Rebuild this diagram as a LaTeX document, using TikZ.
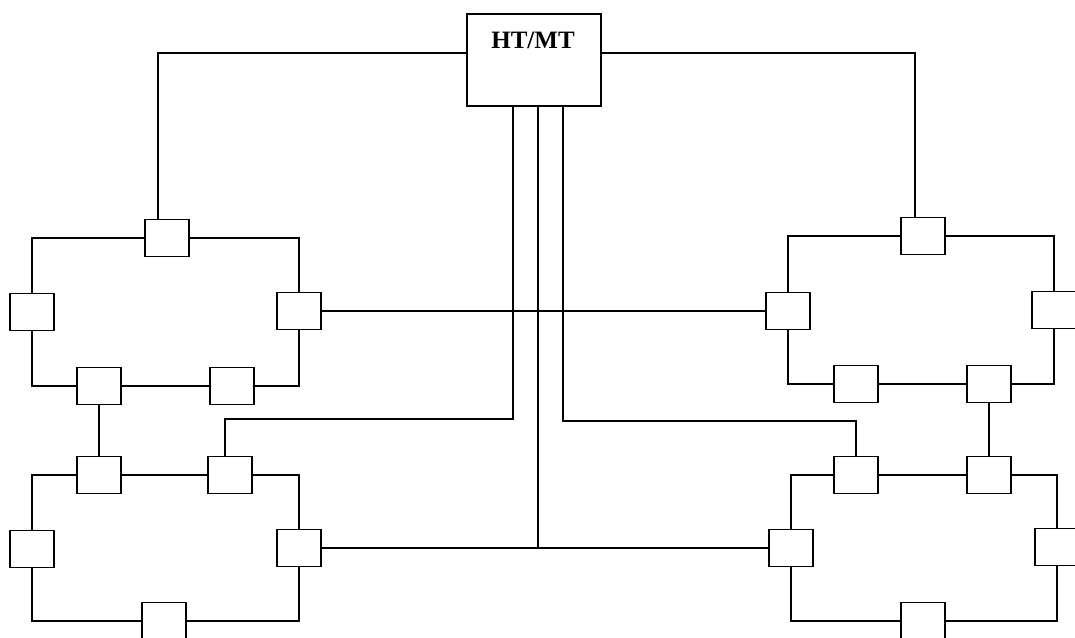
\documentclass[tikz,border=0pt]{standalone}
\usepackage{fontspec}
\setmainfont{Liberation Serif}
\begin{document}
\begin{tikzpicture}[x=1pt,y=-1pt,
  line width=1.3pt,
  unit/.style={draw, fill=white, minimum width=44pt, minimum height=37pt, inner sep=0pt},
  head/.style={draw, fill=white, minimum width=134pt, minimum height=92pt, inner sep=0pt},
  wire/.style={line width=1.3pt}]
\useasboundingbox (0,0) rectangle (1075,637);
\clip (0,0) rectangle (1075,637);

% supply station
\node[head] (ht) at (534,60) {};
\node[font=\bfseries\fontsize{25}{28}\selectfont] (htlabel) at (533,40) {HT/MT};

% upper left loop
\node[unit] (tla) at (167,238) {};
\node[unit] (tlb) at (32,312) {};
\node[unit] (tlc) at (299,311) {};
\node[unit] (tld) at (99,386) {};
\node[unit] (tle) at (232,386) {};

% lower left loop
\node[unit] (bla) at (99,475) {};
\node[unit] (blb) at (230,475) {};
\node[unit] (blc) at (32,549) {};
\node[unit] (bld) at (299,548) {};
\node[unit] (ble) at (164,621) {};

% upper right loop
\node[unit] (tra) at (923,236) {};
\node[unit] (trb) at (788,311) {};
\node[unit] (trc) at (1054,310) {};
\node[unit] (trd) at (856,384) {};
\node[unit] (tre) at (989,384) {};

% lower right loop
\node[unit] (bra) at (856,475) {};
\node[unit] (brb) at (989,475) {};
\node[unit] (brc) at (791,548) {};
\node[unit] (brd) at (1057,547) {};
\node[unit] (bre) at (923,621) {};

% feeder bends
\coordinate (kl) at (513,419);
\coordinate (kr) at (563,421);
\coordinate (hub) at (538,548);

% loops
\draw[wire] (tla) -| (tlb) |- (tld) -- (tle) -| (tlc) |- (tla);
\draw[wire] (bla) -| (blc) |- (ble) -| (bld) |- (blb) -- (bla);
\draw[wire] (tra) -| (trb) |- (trd) -- (tre) -| (trc) |- (tra);
\draw[wire] (bra) -| (brc) |- (bre) -| (brd) |- (brb) -- (bra);

% ties between loops
\draw[wire] (tld) -- (bla);
\draw[wire] (tre) -- (brb);
\draw[wire] (tlc) -- (trb);
\draw[wire] (bld) -- (brc);

% feeders from the station
\draw[wire] ([yshift=7pt]ht.west) -| ([xshift=-9pt]tla.north);
\draw[wire] ([yshift=7pt]ht.east) -| ([xshift=-8pt]tra.north);
\draw[wire] ([xshift=-21pt]ht.south) -- (kl) -| ([xshift=-5pt]blb.north);
\draw[wire] ([xshift=29pt]ht.south) -- (kr) -| (bra.north);
\draw[wire] ([xshift=4pt]ht.south) -- (hub);
\end{tikzpicture}
\end{document}
